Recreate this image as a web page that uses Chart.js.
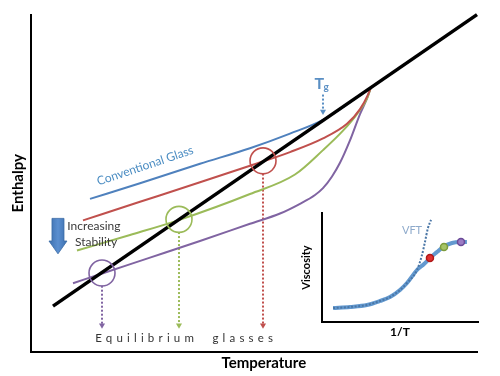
<!DOCTYPE html>
<html><head><meta charset="utf-8">
<script src="https://cdn.jsdelivr.net/npm/chart.js@4"></script>
<style>
html,body{margin:0;padding:0;background:#fff;}
#wrap{position:relative;width:500px;height:376px;overflow:hidden;}
#main{position:absolute;left:0;top:0;}
#inset{position:absolute;left:290px;top:205px;}
</style></head><body>
<div id="wrap"><canvas id="main" width="500" height="376"></canvas><canvas id="inset" width="195" height="140"></canvas></div>
<script>
// ---- main chart data (Temperature vs Enthalpy, arbitrary units 0-100) ----
const equilibriumX = [4.93, 100];
const equilibriumY = [13.58, 100];

const conventionalX = [13.23, 24.44, 37.89, 49.10, 58.07, 65.47, 76.2];
const conventionalY = [45.38, 50.00, 55.78, 60.40, 64.74, 68.79, 78.4];

const redX = [11.66, 24.44, 37.89, 49.10, 58.07, 65.47, 70.85, 73.77, 75.56, 76.2];
const redY = [39.02, 44.51, 50.29, 55.20, 59.25, 63.29, 67.63, 71.97, 76.30, 78.4];

const greenX = [10.31, 22.20, 32.96, 49.10, 59.19, 65.47, 69.96, 73.09, 75.34, 76.2];
const greenY = [30.06, 34.68, 39.02, 46.82, 52.60, 59.83, 65.61, 70.52, 75.14, 78.4];

const purpleX = [9.42, 16.14, 26.68, 37.89, 49.10, 55.83, 60.31, 63.68, 65.47, 67.49, 69.28, 71.52, 73.77, 75.34, 76.2];
const purpleY = [20.38, 23.34, 27.97, 32.91, 38.00, 41.04, 43.93, 46.53, 48.55, 52.02, 56.07, 62.72, 70.52, 75.14, 78.4];

// equilibrium-glass markers (purple, green, red)
const markerX = [15.92, 33.18, 52.02];
const markerY = [23.41, 39.31, 56.65];
const dropTopY = [19.65, 35.55, 52.89];
const dropTipY = 7.9;

// Tg marker
const tgX = 65.47;
const tgArrowY = [76.3, 71.3];

// ---- inset data (1/T vs Viscosity) ----
const viscX = [7.1, 17.9, 28.8, 37.2, 43.6, 50, 54.5, 60.9, 65.4, 69.2, 73.7, 77.6, 83.3, 88.5, 92.9];
const viscY = [12.8, 13.8, 15.6, 19.3, 22.9, 29.4, 35.8, 47.7, 53.2, 58.7, 64.2, 68.8, 72.5, 73.4, 73.4];
const vftX = [7.1, 17.9, 28.8, 37.2, 43.6, 50, 54.5, 60.9, 64.1, 66.0, 67.9, 69.9];
const vftY = [12.8, 13.8, 15.6, 19.3, 22.9, 29.4, 35.8, 47.7, 61.5, 73.4, 86.2, 93.6];
const dotX = [69.2, 78.2, 89.1];
const dotY = [58.7, 68.8, 73.4];

const BLUE = '#4f81bd', RED = '#c0504d', GREEN = '#9bbb59', PURPLE = '#8064a2';
const FONT = 'Lato, "Open Sans", sans-serif';

const pts = (xs, ys) => xs.map((v, i) => ({x: v, y: ys[i]}));

function curve(xs, ys, color, order) {
  return {type: 'line', data: pts(xs, ys), borderColor: color, borderWidth: 2,
    pointRadius: 0, cubicInterpolationMode: 'monotone', fill: false, order: order, clip: false};
}
const markerColors = [PURPLE, GREEN, RED];
const dropSets = markerX.map((mx, i) => ({
  type: 'line', data: [{x: mx, y: dropTopY[i]}, {x: mx, y: dropTipY}],
  borderColor: markerColors[i], borderWidth: 2, borderDash: [2, 2],
  pointRadius: [0, 3.5], pointStyle: 'triangle', rotation: 180,
  pointBackgroundColor: markerColors[i], pointBorderWidth: 0, order: 4, clip: false
}));

const annot = {
  id: 'annot',
  afterDraw(chart) {
    const {ctx, scales: {x, y}, chartArea} = chart;
    const X = v => x.getPixelForValue(v), Y = v => y.getPixelForValue(v);
    ctx.save();
    // Conventional Glass
    ctx.save();
    ctx.translate(X(25.6), Y(55.2));
    ctx.rotate(-18.5 * Math.PI / 180);
    ctx.font = '12px ' + FONT; ctx.fillStyle = '#4a8cc2';
    ctx.textAlign = 'center'; ctx.textBaseline = 'middle';
    ctx.fillText('Conventional Glass', 0, 0);
    ctx.restore();
    // Increasing Stability
    ctx.font = '12px ' + FONT; ctx.fillStyle = '#3a3a3a';
    ctx.textAlign = 'center'; ctx.textBaseline = 'middle';
    ctx.fillText('Increasing', X(14.1), Y(37.3));
    ctx.fillText('Stability', X(14.6), Y(32.7));
    // block arrow
    const ax = X(6.05), aTop = Y(39.6), aNeck = Y(32.9), aTip = Y(29.1);
    const g = ctx.createLinearGradient(ax - 9, 0, ax + 9, 0);
    g.addColorStop(0, '#3c6fae'); g.addColorStop(0.5, '#5b8fd0'); g.addColorStop(1, '#3c6fae');
    ctx.fillStyle = g;
    ctx.beginPath();
    ctx.moveTo(ax - 6, aTop); ctx.lineTo(ax + 6, aTop); ctx.lineTo(ax + 6, aNeck);
    ctx.lineTo(ax + 9, aNeck); ctx.lineTo(ax, aTip); ctx.lineTo(ax - 9, aNeck);
    ctx.lineTo(ax - 6, aNeck); ctx.closePath(); ctx.fill();
    ctx.strokeStyle = '#386aa4'; ctx.lineWidth = 0.8; ctx.stroke();
    // Tg label
    const tx = X(tgX);
    ctx.fillStyle = '#5a8fc4'; ctx.textAlign = 'left'; ctx.textBaseline = 'alphabetic';
    ctx.font = 'bold 16px ' + FONT; ctx.fillText('T', tx - 8.5, Y(78.0));
    ctx.font = 'bold 10px ' + FONT; ctx.fillText('g', tx + 0.5, Y(77.6));
    // Equilibrium glasses
    ctx.fillStyle = '#333'; ctx.textAlign = 'center'; ctx.textBaseline = 'middle';
    ctx.font = '11.5px ' + FONT;
    try { ctx.letterSpacing = '4.2px'; } catch (e) {}
    ctx.fillText('Equilibrium  glasses', X(34.8), Y(4.0));
    try { ctx.letterSpacing = '0px'; } catch (e) {}
    // x-axis title
    ctx.fillStyle = '#000'; ctx.font = 'bold 15px ' + FONT;
    ctx.fillText('Temperature', X(52.2), chartArea.bottom + 11);
    ctx.restore();
  }
};

new Chart(document.getElementById('main'), {
  type: 'line',
  data: {
    datasets: [
      {type: 'line', data: pts(equilibriumX, equilibriumY), borderColor: '#000', borderWidth: 3.5,
        pointRadius: 0, order: 1, clip: false, borderCapStyle: 'butt'},
      curve(conventionalX, conventionalY, BLUE, 2),
      curve(redX, redY, RED, 2),
      curve(greenX, greenY, GREEN, 2),
      curve(purpleX, purpleY, PURPLE, 2),
      {type: 'scatter', data: pts(markerX, markerY), pointRadius: 13, pointHoverRadius: 13,
        pointBackgroundColor: 'rgba(0,0,0,0)', pointBorderColor: markerColors, pointBorderWidth: 1.6,
        showLine: false, order: 0, clip: false},
      ...dropSets,
      {type: 'line', data: [{x: tgX, y: tgArrowY[0]}, {x: tgX, y: tgArrowY[1]}],
        borderColor: '#5a8fc4', borderWidth: 2, borderDash: [2, 2],
        pointRadius: [0, 3.5], pointStyle: 'triangle', rotation: 180,
        pointBackgroundColor: '#5a8fc4', pointBorderWidth: 0, order: 4, clip: false}
    ]
  },
  options: {
    responsive: false, animation: false, events: [],
    layout: {padding: {top: 6, right: 23, left: 0, bottom: 0}},
    plugins: {legend: {display: false}, tooltip: {enabled: false}},
    scales: {
      x: {type: 'linear', min: 0, max: 100, grid: {display: false, drawTicks: false},
        ticks: {display: false}, border: {display: true, color: '#000', width: 2},
        afterFit: s => { s.height = 24; }},
      y: {type: 'linear', min: 0, max: 100, grid: {display: false, drawTicks: false},
        ticks: {display: false}, border: {display: true, color: '#000', width: 2},
        title: {display: true, text: 'Enthalpy', color: '#000', padding: {top: 9, bottom: 0},
          font: {family: FONT, size: 15, weight: 'bold'}},
        afterFit: s => { s.width = 31; }}
    }
  },
  plugins: [annot]
});

const insetAnnot = {
  id: 'insetAnnot',
  afterDraw(chart) {
    const {ctx, scales: {x, y}} = chart;
    ctx.save();
    ctx.font = '11px ' + FONT; ctx.fillStyle = '#8eaacb';
    ctx.textAlign = 'center'; ctx.textBaseline = 'middle';
    ctx.fillText('VFT', x.getPixelForValue(57.7), y.getPixelForValue(84.4));
    ctx.restore();
  }
};

new Chart(document.getElementById('inset'), {
  type: 'line',
  data: {
    datasets: [
      {type: 'scatter', data: pts(dotX, dotY), pointRadius: 3.5,
        pointBackgroundColor: ['#e03030', '#a6c466', '#9c7cc4'],
        pointBorderColor: ['#b01818', '#7d9c3c', '#6a4a98'], pointBorderWidth: 1.5,
        showLine: false, order: 0, clip: false},
      {type: 'line', data: pts(vftX, vftY), borderColor: '#4a76a6', borderWidth: 2, borderDash: [2, 1.6],
        pointRadius: 0, cubicInterpolationMode: 'monotone', order: 1, clip: false},
      {type: 'line', data: pts(viscX, viscY), borderColor: '#6399cf', borderWidth: 4,
        pointRadius: 0, cubicInterpolationMode: 'monotone', order: 2, clip: false}
    ]
  },
  options: {
    responsive: false, animation: false, events: [],
    layout: {padding: {top: 8, right: 7, left: 0, bottom: 0}},
    plugins: {legend: {display: false}, tooltip: {enabled: false}},
    scales: {
      x: {type: 'linear', min: 0, max: 100, grid: {display: false, drawTicks: false},
        ticks: {display: false}, border: {display: true, color: '#000', width: 2},
        title: {display: true, text: '1/T', color: '#000', padding: {top: 0, bottom: 6},
          font: {family: FONT, size: 12, weight: 'bold'}},
        afterFit: s => { s.height = 23; }},
      y: {type: 'linear', min: 0, max: 100, grid: {display: false, drawTicks: false},
        ticks: {display: false}, border: {display: true, color: '#000', width: 2},
        title: {display: true, text: 'Viscosity', color: '#000', padding: {top: 10, bottom: 0},
          font: {family: FONT, size: 11, weight: 'bold'}},
        afterFit: s => { s.width = 32; }}
    }
  },
  plugins: [insetAnnot]
});
</script>
</body></html>
